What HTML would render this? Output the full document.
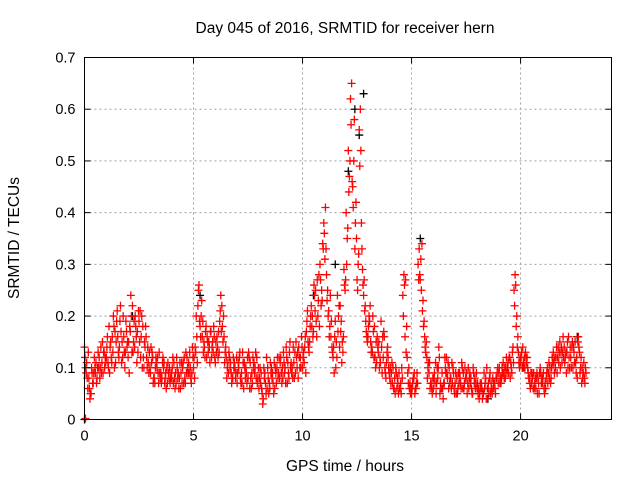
<!DOCTYPE html>
<html><head><meta charset="utf-8"><style>
body{margin:0;background:#fff}
svg{display:block;font-family:"Liberation Sans",sans-serif}
</style></head><body>
<svg id="chart" width="640" height="480" viewBox="0 0 640 480">
<rect width="640" height="480" fill="#fff"/>
<g id="grid"></g>
<g id="marks"></g>
<rect x="84.5" y="57.5" width="527" height="362" fill="none" stroke="#000"/>
<g id="axes"></g>
<text x="345" y="33" font-size="15.5" text-anchor="middle">Day 045 of 2016, SRMTID for receiver hern</text>
<text transform="translate(19,238) rotate(-90)" font-size="15.5" text-anchor="middle">SRMTID / TECUs</text>
<text x="345" y="471" font-size="15.5" text-anchor="middle">GPS time / hours</text>
</svg>
<script>
const xTicks=[0,5,10,15,20];
const yTicks=[0,0.1,0.2,0.3,0.4,0.5,0.6,0.7];
const yTickLabels=["0","0.1","0.2","0.3","0.4","0.5","0.6","0.7"];
const seriesAStart=0, seriesAStep=0.1;
const seriesA=[0.14,0.11,0.08,0.05,0.07,0.09,0.10,0.08,0.11,0.13,
0.12,0.10,0.15,0.13,0.17,0.21,0.14,0.11,0.16,0.19,
0.12,0.17,0.22,0.14,0.11,0.19,0.16,0.12,0.18,0.14,
0.10,0.13,0.08,0.11,0.07,0.09,0.12,0.08,0.07,0.10,
0.08,0.11,0.07,0.09,0.06,0.10,0.08,0.12,0.09,0.07,
0.10,0.13,0.22,0.18,0.16,0.14,0.12,0.15,0.17,0.13,
0.11,0.14,0.19,0.22,0.16,0.12,0.09,0.11,0.08,0.10,
0.07,0.12,0.09,0.06,0.10,0.08,0.11,0.07,0.09,0.12,
0.06,0.09,0.04,0.07,0.10,0.06,0.08,0.11,0.07,0.09,
0.12,0.08,0.10,0.07,0.13,0.09,0.11,0.15,0.08,0.12,
0.10,0.14,0.19,0.13,0.22,0.17,0.25,0.20,0.30,0.23,
0.36,0.28,0.21,0.16,0.12,0.19,0.24,0.14,0.11,0.29,
0.40,0.52,0.62,0.45,0.33,0.27,0.56,0.38,0.24,0.19,
0.16,0.22,0.13,0.18,0.11,0.15,0.19,0.12,0.09,0.14,
0.08,0.11,0.06,0.09,0.05,0.07,0.24,0.16,0.12,0.06,
0.05,0.08,0.06,0.30,0.27,0.21,0.16,0.12,0.09,0.07,
0.06,0.11,0.08,0.05,0.09,0.07,0.12,0.06,0.08,0.10,
0.07,0.05,0.09,0.11,0.06,0.08,0.10,0.07,0.05,0.08,
0.06,0.04,0.07,0.05,0.08,0.06,0.09,0.05,0.07,0.08,
0.09,0.07,0.11,0.08,0.10,0.12,0.09,0.25,0.18,0.13,
0.11,0.14,0.10,0.12,0.08,0.07,0.09,0.06,0.08,0.10,
0.07,0.05,0.09,0.11,0.08,0.13,0.10,0.12,0.15,0.11,
0.14,0.09,0.16,0.12,0.10,0.15,0.08,0.13,0.07,0.11,
0.09];
const seriesBStart=0.05, seriesBStep=0.1;
const seriesB=[0.10,0.06,0.04,0.09,0.12,0.07,0.10,0.14,0.09,0.12,
0.16,0.09,0.11,0.18,0.15,0.13,0.22,0.12,0.10,0.14,
0.09,0.20,0.15,0.18,0.13,0.21,0.10,0.15,0.12,0.09,
0.14,0.07,0.10,0.12,0.09,0.08,0.11,0.06,0.09,0.08,
0.12,0.06,0.10,0.08,0.11,0.07,0.13,0.09,0.10,0.14,
0.08,0.16,0.26,0.20,0.13,0.17,0.15,0.11,0.14,0.16,
0.13,0.17,0.24,0.15,0.13,0.10,0.12,0.07,0.10,0.09,
0.11,0.08,0.13,0.10,0.07,0.12,0.06,0.10,0.13,0.08,
0.10,0.05,0.08,0.12,0.05,0.09,0.07,0.10,0.12,0.08,
0.07,0.11,0.14,0.09,0.10,0.08,0.13,0.10,0.12,0.16,
0.13,0.09,0.15,0.18,0.20,0.24,0.16,0.28,0.22,0.33,
0.41,0.25,0.18,0.14,0.09,0.15,0.20,0.17,0.13,0.25,
0.35,0.47,0.65,0.50,0.42,0.30,0.60,0.29,0.21,0.16,
0.20,0.13,0.17,0.10,0.14,0.12,0.09,0.16,0.11,0.10,
0.07,0.10,0.05,0.08,0.06,0.10,0.28,0.13,0.07,0.05,
0.07,0.05,0.09,0.33,0.25,0.18,0.13,0.10,0.06,0.05,
0.09,0.07,0.14,0.06,0.04,0.10,0.08,0.07,0.11,0.06,
0.05,0.09,0.07,0.06,0.10,0.05,0.08,0.06,0.09,0.07,
0.05,0.07,0.04,0.06,0.10,0.05,0.07,0.06,0.05,0.10,
0.07,0.10,0.08,0.12,0.09,0.11,0.14,0.28,0.14,0.10,
0.13,0.10,0.12,0.09,0.06,0.08,0.07,0.09,0.05,0.07,
0.09,0.06,0.07,0.10,0.12,0.09,0.14,0.11,0.13,0.16,
0.12,0.15,0.10,0.14,0.13,0.09,0.16,0.10,0.08,0.07];
const seriesCStart=0.025, seriesCStep=0.1;
const seriesC=[0.12,0.08,0.06,0.10,0.09,0.11,0.13,0.10,0.15,0.10,
0.14,0.18,0.12,0.20,0.11,0.16,0.19,0.15,0.13,0.17,
0.15,0.24,0.13,0.20,0.17,0.15,0.20,0.10,0.16,0.11,
0.09,0.12,0.07,0.10,0.13,0.07,0.10,0.09,0.11,0.07,
0.10,0.08,0.12,0.06,0.09,0.11,0.07,0.10,0.13,0.09,
0.12,0.20,0.25,0.16,0.19,0.12,0.16,0.14,0.12,0.18,
0.15,0.12,0.21,0.18,0.11,0.08,0.13,0.09,0.12,0.08,
0.09,0.13,0.07,0.11,0.09,0.13,0.08,0.12,0.10,0.07,
0.08,0.06,0.10,0.05,0.08,0.11,0.09,0.06,0.10,0.12,
0.09,0.13,0.07,0.11,0.15,0.10,0.08,0.12,0.14,0.10,
0.12,0.16,0.21,0.15,0.18,0.26,0.19,0.23,0.27,0.34,
0.31,0.23,0.16,0.19,0.14,0.10,0.17,0.22,0.15,0.26,
0.30,0.44,0.57,0.41,0.38,0.25,0.49,0.33,0.27,0.17,
0.18,0.15,0.20,0.12,0.16,0.10,0.14,0.17,0.08,0.12,
0.10,0.07,0.08,0.06,0.09,0.05,0.20,0.27,0.09,0.07,
0.06,0.09,0.07,0.27,0.31,0.23,0.14,0.08,0.11,0.06,
0.08,0.05,0.10,0.07,0.06,0.12,0.09,0.10,0.06,0.09,
0.09,0.06,0.08,0.10,0.07,0.09,0.06,0.08,0.10,0.06,
0.07,0.05,0.06,0.09,0.04,0.07,0.05,0.08,0.06,0.09,
0.10,0.08,0.09,0.10,0.11,0.08,0.13,0.22,0.20,0.11,
0.12,0.11,0.13,0.10,0.07,0.09,0.06,0.08,0.07,0.09,
0.08,0.07,0.10,0.08,0.10,0.11,0.12,0.14,0.10,0.13,
0.11,0.13,0.12,0.10,0.14,0.11,0.15,0.09,0.10,0.08];
const seriesDStart=0.075, seriesDStep=0.1;
const seriesD=[0.09,0.13,0.05,0.07,0.10,0.08,0.12,0.09,0.13,0.11,
0.11,0.14,0.16,0.10,0.19,0.12,0.17,0.20,0.13,0.15,
0.18,0.13,0.19,0.16,0.21,0.12,0.18,0.14,0.10,0.13,
0.11,0.08,0.12,0.09,0.08,0.11,0.07,0.10,0.08,0.09,
0.07,0.09,0.08,0.11,0.07,0.12,0.09,0.11,0.08,0.12,
0.14,0.11,0.19,0.23,0.15,0.18,0.13,0.17,0.15,0.12,
0.16,0.13,0.17,0.20,0.14,0.11,0.10,0.08,0.11,0.12,
0.10,0.07,0.11,0.08,0.12,0.06,0.09,0.11,0.08,0.10,
0.07,0.03,0.09,0.06,0.07,0.10,0.05,0.09,0.08,0.11,
0.10,0.09,0.12,0.08,0.11,0.14,0.09,0.13,0.10,0.14,
0.11,0.17,0.14,0.20,0.16,0.21,0.27,0.18,0.25,0.38,
0.33,0.20,0.24,0.13,0.16,0.12,0.22,0.19,0.16,0.27,
0.37,0.50,0.46,0.58,0.35,0.32,0.52,0.26,0.22,0.15,
0.19,0.14,0.12,0.15,0.13,0.11,0.16,0.10,0.13,0.09,
0.09,0.06,0.10,0.07,0.06,0.08,0.26,0.18,0.10,0.06,
0.08,0.06,0.07,0.28,0.34,0.19,0.15,0.11,0.07,0.08,
0.07,0.10,0.12,0.06,0.07,0.09,0.11,0.08,0.07,0.05,
0.08,0.07,0.06,0.09,0.08,0.07,0.09,0.05,0.07,0.09,
0.06,0.06,0.05,0.07,0.06,0.08,0.06,0.07,0.08,0.07,
0.08,0.09,0.10,0.09,0.12,0.10,0.11,0.26,0.16,0.12,
0.10,0.12,0.11,0.08,0.09,0.06,0.08,0.05,0.09,0.08,
0.06,0.08,0.09,0.07,0.11,0.12,0.09,0.13,0.14,0.12,
0.13,0.10,0.14,0.15,0.11,0.12,0.14,0.12,0.09,0.10];
const blackTimes=[0,2.2,5.3,10.5,11.5,12.1,12.4,12.6,12.8,15.4,16.2,18.5,20.1,22.6];
const blackValues=[0,0.2,0.24,0.24,0.3,0.48,0.6,0.55,0.63,0.35,0.1,0.04,0.1,0.16];
const zeroTimes=[0];
const zeroValues=[0];

const X0=84.5,X1=611.5,Y0=419.5,Y1=57.5,XMAX=24.17,YMAX=0.7;
const xs=v=>X0+(X1-X0)*v/XMAX;
const ys=v=>Y0-(Y0-Y1)*v/YMAX;
const NS="http://www.w3.org/2000/svg";
const grid=document.getElementById('grid'),axes=document.getElementById('axes'),marks=document.getElementById('marks');
function mk(tag,attrs,parent){const e=document.createElementNS(NS,tag);for(const k in attrs)e.setAttribute(k,attrs[k]);parent.appendChild(e);return e;}

xTicks.forEach(t=>{
  const x=xs(t);
  if(t>0){const g=mk('line',{x1:x,x2:x,y1:Y1,y2:Y0,stroke:'#a0a0a0','stroke-dasharray':'2,3'},grid);
  
  }
  mk('line',{x1:x,x2:x,y1:Y0,y2:Y0-6,stroke:'#000'},axes);
  mk('line',{x1:x,x2:x,y1:Y1,y2:Y1+6,stroke:'#000'},axes);
  const l=mk('text',{x:x,y:Y0+21,'font-size':14.5,'text-anchor':'middle'},axes);
  l.textContent=t;
  
  
});
yTicks.forEach((t,i)=>{
  const y=ys(t);
  if(t>0&&t<YMAX){const g=mk('line',{x1:X0,x2:X1,y1:y,y2:y,stroke:'#a0a0a0','stroke-dasharray':'2,3'},grid);
  
  }
  mk('line',{x1:X0,x2:X0+6,y1:y,y2:y,stroke:'#000'},axes);
  mk('line',{x1:X1,x2:X1-6,y1:y,y2:y,stroke:'#000'},axes);
  const l=mk('text',{x:X0-9,y:y+5,'font-size':14.5,'text-anchor':'end'},axes);
  l.textContent=yTickLabels[i];
  
  
});
function plus(x,y,color,name){
  const p=mk('path',{d:`M${x-4} ${y}H${x+4}M${x} ${y-4}V${y+4}`,stroke:color,'stroke-width':1.3,fill:'none'},marks);
  
  
}
blackTimes.forEach((t,i)=>plus(xs(t),ys(blackValues[i]),'#000','black-point'));
seriesA.forEach((v,i)=>plus(xs(seriesAStart+i*seriesAStep),ys(v),'#f00','red-point'));
seriesB.forEach((v,i)=>plus(xs(seriesBStart+i*seriesBStep),ys(v),'#f00','red-point'));
seriesC.forEach((v,i)=>plus(xs(seriesCStart+i*seriesCStep),ys(v),'#f00','red-point'));
seriesD.forEach((v,i)=>plus(xs(seriesDStart+i*seriesDStep),ys(v),'#f00','red-point'));
zeroTimes.forEach((t,i)=>plus(xs(t)+1,ys(zeroValues[i])-1,'#f00','red-point'));
</script>
</body></html>
